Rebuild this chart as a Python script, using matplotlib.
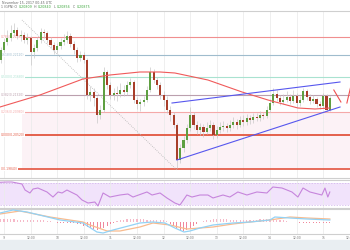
import numpy as np
import matplotlib.pyplot as plt
from matplotlib.patches import Rectangle

# ---- data ----
# candles every 1.5h, hours counted from Nov 9 00:00
first_open = 0.2202
close = [
    0.2222, 0.2238, 0.2246, 0.2256, 0.2262, 0.2250, 0.2252, 0.2242, 0.2246, 0.2218,
    0.2226, 0.2242, 0.2258, 0.2256, 0.2242, 0.2232, 0.2222, 0.2230, 0.2238, 0.2242,
    0.2250, 0.2234, 0.2222, 0.2206, 0.2212, 0.2202, 0.2132, 0.2138, 0.2126, 0.2092,
    0.2102, 0.2178, 0.2152, 0.2132, 0.2136, 0.2134, 0.2142, 0.2138, 0.2152, 0.2158,
    0.2122, 0.2114, 0.2118, 0.2122, 0.2142, 0.2178, 0.2162, 0.2152, 0.2132, 0.2122,
    0.2102, 0.2092, 0.2072, 0.2002, 0.2026, 0.2042, 0.2066, 0.2092, 0.2072, 0.2062,
    0.2068, 0.2058, 0.2066, 0.2072, 0.2052, 0.2062, 0.2068, 0.2070, 0.2066, 0.2072,
    0.2078, 0.2072, 0.2082, 0.2078, 0.2086, 0.2082, 0.2088, 0.2086, 0.2092, 0.2090,
    0.2102, 0.2116, 0.2134, 0.2126, 0.2118, 0.2122, 0.2128, 0.2120, 0.2130, 0.2116,
    0.2122, 0.2140, 0.2128, 0.2120, 0.2124, 0.2114, 0.2110, 0.2130, 0.2102, 0.2126,
]
high = [
    0.2228, 0.2246, 0.2262, 0.2272, 0.2276, 0.2268, 0.2262, 0.2258, 0.2256, 0.2250,
    0.2234, 0.2248, 0.2266, 0.2264, 0.2260, 0.2248, 0.2238, 0.2236, 0.2246, 0.2254,
    0.2260, 0.2256, 0.2240, 0.2228, 0.2220, 0.2218, 0.2206, 0.2150, 0.2146, 0.2130,
    0.2112, 0.2188, 0.2182, 0.2158, 0.2146, 0.2150, 0.2156, 0.2152, 0.2160, 0.2166,
    0.2162, 0.2128, 0.2124, 0.2130, 0.2150, 0.2188, 0.2184, 0.2168, 0.2158, 0.2140,
    0.2130, 0.2110, 0.2098, 0.2076, 0.2034, 0.2050, 0.2074, 0.2108, 0.2098, 0.2080,
    0.2076, 0.2074, 0.2078, 0.2082, 0.2078, 0.2070, 0.2078, 0.2080, 0.2076, 0.2082,
    0.2088, 0.2084, 0.2090, 0.2092, 0.2094, 0.2092, 0.2096, 0.2096, 0.2100, 0.2098,
    0.2110, 0.2124, 0.2146, 0.2142, 0.2132, 0.2134, 0.2140, 0.2134, 0.2142, 0.2136,
    0.2130, 0.2146, 0.2144, 0.2134, 0.2132, 0.2128, 0.2120, 0.2136, 0.2134, 0.2130,
]
low = [
    0.2196, 0.2218, 0.2232, 0.2240, 0.2250, 0.2244, 0.2240, 0.2236, 0.2234, 0.2192,
    0.2206, 0.2220, 0.2236, 0.2246, 0.2236, 0.2226, 0.2214, 0.2216, 0.2224, 0.2232,
    0.2236, 0.2228, 0.2214, 0.2198, 0.2200, 0.2196, 0.2124, 0.2120, 0.2110, 0.2076,
    0.2084, 0.2098, 0.2144, 0.2124, 0.2122, 0.2120, 0.2128, 0.2130, 0.2132, 0.2146,
    0.2116, 0.2104, 0.2100, 0.2110, 0.2118, 0.2138, 0.2156, 0.2144, 0.2124, 0.2110,
    0.2096, 0.2080, 0.2066, 0.1986, 0.1996, 0.2018, 0.2036, 0.2060, 0.2064, 0.2054,
    0.2052, 0.2048, 0.2054, 0.2060, 0.2044, 0.2046, 0.2056, 0.2060, 0.2058, 0.2060,
    0.2066, 0.2064, 0.2068, 0.2070, 0.2072, 0.2074, 0.2076, 0.2080, 0.2080, 0.2084,
    0.2086, 0.2098, 0.2112, 0.2120, 0.2112, 0.2114, 0.2118, 0.2114, 0.2116, 0.2108,
    0.2110, 0.2118, 0.2122, 0.2114, 0.2116, 0.2108, 0.2104, 0.2106, 0.2098, 0.2100,
]

# moving average (red curve)
ma_t = [-1.8, 16.2, 35.6, 47.8, 61.3, 70.4, 77.1, 92.0, 107.4, 119.1, 132.6, 140.3, 147.0]
ma_v = [0.2108, 0.2132, 0.2164, 0.2172, 0.2178, 0.2178, 0.2176, 0.2162, 0.2138, 0.2122,
        0.2106, 0.2104, 0.2106]

# horizontal levels
level_price = [0.2248, 0.2212, 0.2168, 0.2132, 0.2098, 0.2052, 0.1984]
level_label = ["0.786(0.22480)", "0.618(0.22120)", "0.500(0.21680)", "0.382(0.21320)",
               "0.236(0.20980)", "0.000(0.20520)", "0(0.19840)"]
level_color = ["#f08f8f", "#9fbccd", "#a9e2d0", "#bba0ae", "#f5a9a9", "#e2553f", "#e5604d"]
level_width = [0.8, 0.8, 0.8, 0.8, 0.8, 1.3, 1.3]

# drawn trendlines
upper_t, upper_v = [75.8, 151.6], [0.2116, 0.2158]
lower_t, lower_v = [78.0, 151.6], [0.2002, 0.2108]
diag_t, diag_v = [8.1, 78.0], [0.2282, 0.1982]
zig1_t, zig1_v = [148.8, 152.0], [0.2142, 0.2118]
zig2_t, zig2_v = [154.7, 156.5], [0.2116, 0.2150]

# RSI
rsi_t = [-1.8, 1.4, 3.6, 8.1, 9.5, 11.7, 13.1, 15.3, 19.4, 22.1, 24.4, 26.2, 28.4, 32.9,
         35.2, 37.9, 41.0, 42.4, 44.7, 47.8, 52.3, 55.9, 58.2, 64.5, 66.8, 70.4, 73.5,
         77.1, 79.4, 82.5, 84.8, 88.4, 92.0, 94.3, 98.8, 101.9, 105.5, 109.6, 114.1,
         118.6, 121.3, 125.4, 129.9, 132.6, 134.9, 138.0, 143.4, 144.8, 146.1, 147.0]
rsi_v = [70.9, 71.4, 71.4, 67.9, 57.1, 51.8, 58.9, 60.7, 53.6, 44.6, 53.6, 51.8, 57.1, 48.2,
         39.3, 33.9, 35.7, 28.6, 51.8, 44.6, 48.2, 50.0, 44.6, 53.6, 48.2, 51.8, 42.9,
         33.9, 30.4, 48.2, 44.6, 48.2, 48.2, 42.9, 48.2, 44.6, 53.6, 48.2, 53.6,
         51.8, 62.5, 60.7, 53.6, 44.6, 60.7, 53.6, 48.2, 60.7, 44.6, 53.6]

# MACD (units of 1e-5)
macd_t = [-1.8, 4.1, 10.4, 25.3, 35.6, 41.9, 44.7, 49.2, 61.3, 67.2, 72.6, 77.1, 81.2,
          83.9, 88.4, 94.3, 103.3, 111.0, 120.0, 122.2, 129.0, 136.7, 147.0]
macd_v = [45, 60, 50, 10, -5, -50, -55, -40, -5, 0, -5, -30, -50, -45, -30, -15, -5, 0,
          10, 25, 20, 15, 10]
sig_t = [-1.8, 7.2, 20.7, 35.6, 38.8, 46.5, 52.3, 61.3, 67.2, 74.9, 82.5, 94.3, 103.3,
         111.0, 120.0, 129.0, 136.7, 147.0]
sig_v = [40, 55, 25, 0, -15, -45, -45, -25, -5, -15, -35, -25, -10, 0, 10, 25, 20, 15]
hist = [15, 15, 14, 14, 13, 12, 12, 12, 11, 10, 10, 10, 9, 8, 6,
        3, 0, -3, -4, -5, -5, -6, -6, -8,
        -12, -18, -25, -30, -35, -38, -35, -28, -20,
        -10, -3, 5, 10, 12, 14, 15, 15, 14, 14, 13, 12, 12, 11, 10, 10, 8, 5,
        -8, -18, -30, -40, -45, -40, -30,
        -18, -8, 0, 6, 10, 12, 14, 14, 14, 13, 13, 12, 12, 12, 12, 11, 11, 10, 10, 12,
        14, 16, 16, 15, 14, 12, 10, 8,
        4, 2, 0, -2, -4, -5, -6, -6, -6, -7, -7, -6, -5, -6]

tick_labels = ["9", "12:00", "10", "12:00", "11", "12:00", "12", "12:00",
               "13", "12:00", "14", "12:00", "15", "12:00"]

header_date = "November 15, 2017 00:45 UTC"
header_parts = [("1 (GPN) O", "#666666"), ("0.20809", "#3aa63a"), ("H", "#666666"),
                ("0.20840", "#3aa63a"), ("L", "#666666"), ("0.20856", "#3aa63a"),
                ("C", "#666666"), ("0.20875", "#3aa63a")]

# ---- figure ----
W, H = 350, 250
fig = plt.figure(figsize=(3.5, 2.5), dpi=100)
fig.patches.append(Rectangle((0, 0), 1, 10 / H, transform=fig.transFigure,
                             color="#e9eef2", zorder=0))

def px_axes(top, bottom):
    return fig.add_axes([0, 1 - bottom / H, 1, (bottom - top) / H])

ax = px_axes(11, 178)
ax_rsi = px_axes(180, 208)
ax_macd = px_axes(209, 234)

xlim = (-1.8, 156.1)
ticks = np.arange(len(tick_labels)) * 12
t = -1.5 + 1.5 * np.arange(len(close))
opens = np.array([first_open] + close[:-1])
close = np.array(close)

for a in (ax, ax_rsi, ax_macd):
    a.set_xlim(*xlim)
    a.set_xticks(ticks)
    a.set_yticks([])
    a.grid(axis="x", color="#ececec", lw=0.6)
    a.set_axisbelow(True)
    for s in ("left", "right"):
        a.spines[s].set_visible(False)
    for s in ("top", "bottom"):
        a.spines[s].set_color("#cfcfcf")
        a.spines[s].set_linewidth(0.8)
    a.tick_params(length=0, labelbottom=False)

# main price panel
ax.set_ylim(0.1966, 0.2300)
ax.fill_between([8.1, 160], 0.1984, 0.2098, color="#fcf2f6", lw=0, zorder=0)
for p, lab, c, lw in zip(level_price, level_label, level_color, level_width):
    ax.axhline(p, color=c, lw=lw, zorder=1)
    ax.text(0.002, p, lab, fontsize=2.2, color=c, va="center", ha="left",
            transform=ax.get_yaxis_transform(),
            bbox=dict(boxstyle="square,pad=0.15", fc="white", ec="none"), zorder=2)

ax.plot(diag_t, diag_v, color="#b5b5b5", lw=0.6, ls=(0, (1, 1.5)), zorder=2)
ax.vlines(t, low, high, color="#c9c9c9", lw=0.5, zorder=3)
up = close >= opens
body = np.maximum(np.abs(close - opens), 0.00012)
ax.bar(t, body, bottom=np.minimum(opens, close), width=0.95,
       color=np.where(up, "#5e9f41", "#a83e2a"), zorder=4)
ax.plot(ma_t, ma_v, color="#f05a5a", lw=0.8, zorder=5)
ax.plot(upper_t, upper_v, color="#5757ee", lw=0.8, zorder=5)
ax.plot(lower_t, lower_v, color="#5757ee", lw=0.8, zorder=5)
ax.plot(zig1_t, zig1_v, color="#f05050", lw=0.8, zorder=5)
ax.plot(zig2_t, zig2_v, color="#f05050", lw=0.8, zorder=5)

# RSI panel
ax_rsi.set_ylim(25, 75)
ax_rsi.axhspan(30, 70, color="#f1e3fb", lw=0, zorder=0)
for lvl in (30, 70):
    ax_rsi.axhline(lvl, color="#cfb1ea", lw=0.5, ls=(0, (2, 2)))
ax_rsi.plot(rsi_t, rsi_v, color="#c685dc", lw=0.8)

# MACD panel
ax_macd.set_ylim(-60, 65)
hist = np.array(hist)
ax_macd.bar(t, hist, width=0.5, color=np.where(hist >= 0, "#f6b9c8", "#f0889c"), zorder=2)
ax_macd.plot(sig_t, sig_v, color="#f8bb8e", lw=0.9, zorder=3)
ax_macd.plot(macd_t, macd_v, color="#93d2f5", lw=0.9, zorder=4)
ax_macd.tick_params(labelbottom=True, labelsize=2.2, labelcolor="#777777", pad=1.5)
ax_macd.set_xticklabels(tick_labels)

# header
fig.text(2 / W, 1 - 3 / H, header_date, fontsize=2.3, color="#666666", va="center")
prev = fig.text(1 / W, 1 - 7.5 / H, header_parts[0][0], fontsize=2.3,
                color=header_parts[0][1], va="center")
for s, c in header_parts[1:]:
    prev = ax.annotate(s, xy=(1, 0.5), xycoords=prev, xytext=(1.2, 0),
                       textcoords="offset points", fontsize=2.3, color=c,
                       va="center", ha="left", annotation_clip=False)

fig.savefig("out.png", dpi=100)
